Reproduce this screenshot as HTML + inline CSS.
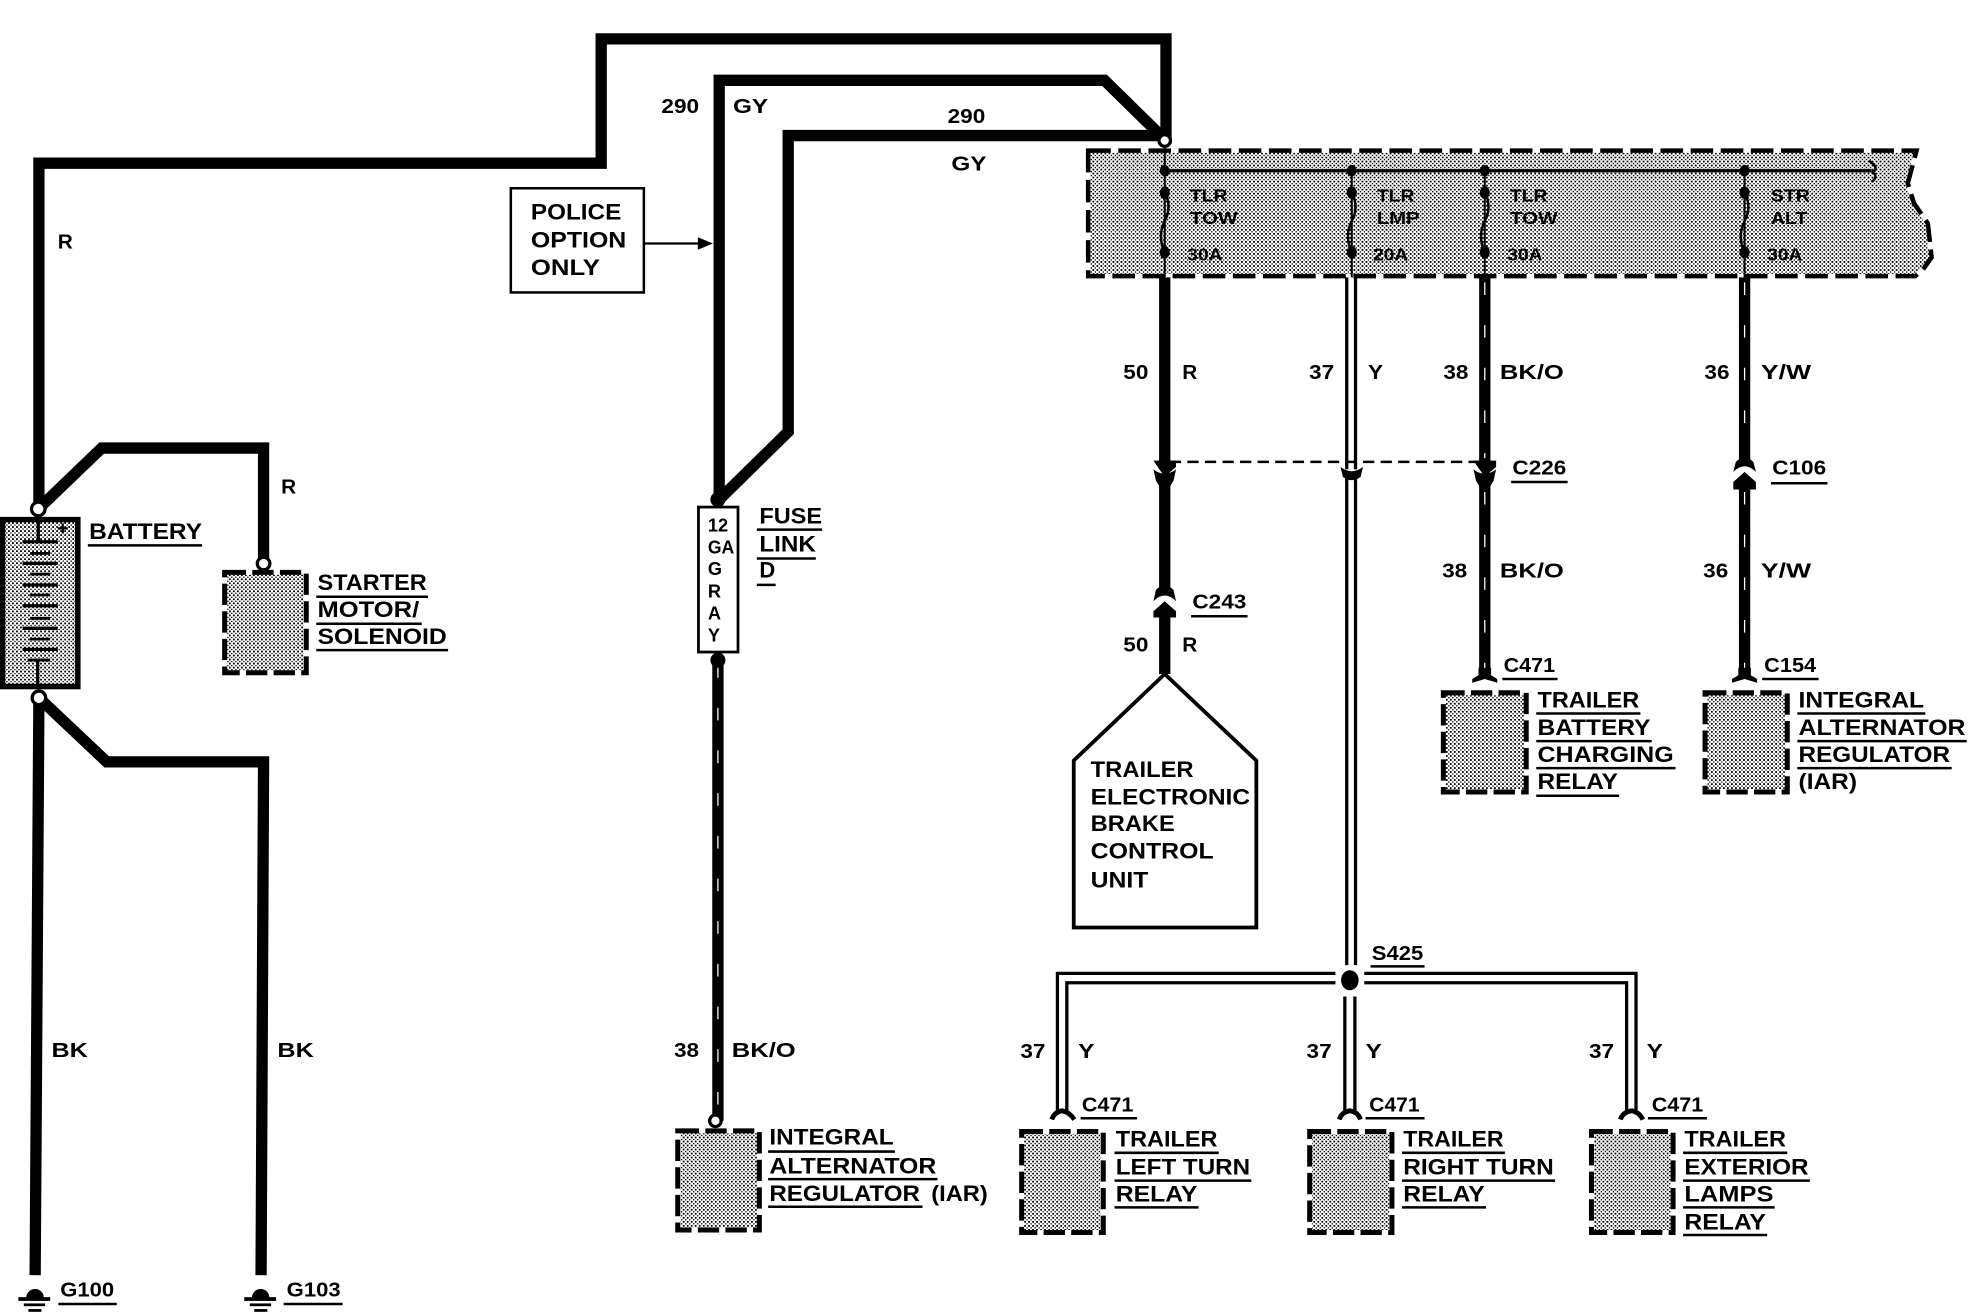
<!DOCTYPE html>
<html><head><meta charset="utf-8"><title>Wiring diagram</title>
<style>
html,body{margin:0;padding:0;background:#fff;width:1968px;height:1312px;overflow:hidden}
svg{display:block}
text{font-family:"Liberation Sans",sans-serif;font-weight:bold;fill:#000}
.l{font-size:17.5px}
.n{font-size:16px}
.s{font-size:14px;font-weight:bold}
.w{fill:none;stroke:#000;stroke-width:9}
.b0{fill:url(#st);stroke:#fff;stroke-width:4}
.b{fill:none;stroke:#000;stroke-width:4;stroke-dasharray:17 5}
.u{fill:none;stroke:#000;stroke-width:2}
.d{fill:none;stroke:#fff;stroke-width:1;stroke-dasharray:10 24}
.y{fill:none;stroke:#000;stroke-width:2.6}
.c{fill:#fff;stroke:#000;stroke-width:2.6}
.f{fill:none;stroke:#000;stroke-width:2}
</style></head><body>
<svg xmlns="http://www.w3.org/2000/svg" width="1968" height="1312" viewBox="0 0 1568 1045.33" shape-rendering="crispEdges">
<defs>
<pattern id="st" width="3.2" height="3.2" patternUnits="userSpaceOnUse">
<rect width="3.2" height="3.2" fill="#fff"/>
<rect width="1.3" height="1.3" fill="#000"/>
<rect x="1.6" y="1.6" width="1.3" height="1.3" fill="#000"/>
</pattern>
</defs>
<rect width="1568" height="1046" fill="#fff"/>
<g shape-rendering="auto">

<!-- main wires -->
<path class="w" d="M31 405V130H479V31H929V112"/>
<path class="w" d="M573 398V64H880L929 112"/>
<path class="w" d="M573 398L628 344V108H929"/>
<path class="w" d="M31 405L81 357H210V449"/>
<path class="w" d="M31 556L85 607H210L208 1016"/>
<path class="w" d="M31 556L28 1016"/>

<!-- fuse panel -->
<path d="M867 120H1527L1520 146L1525 162L1536 178L1539 205L1532 215L1526 220H867Z" fill="url(#st)" stroke="#fff" stroke-width="3.6"/>
<path d="M867 120H1527L1520 146L1525 162L1536 178L1539 205L1532 215L1526 220H867Z" fill="none" stroke="#000" stroke-width="3.6" stroke-dasharray="18 6"/>
<path d="M928 112V221M1077 136V221M1183 136V221M1390 136V221" stroke="#000" stroke-width="1.6" fill="none"/>
<path d="M928 136H1491" stroke="#000" stroke-width="2.6" fill="none"/>
<path d="M1489 128Q1498 134 1492 137Q1497 141 1491 145" class="f"/>
<path class="f" d="M928 153Q934 165 928 176Q922 188 928 201"/>
<path class="f" d="M1077 153Q1083 165 1077 176Q1071 188 1077 201"/>
<path class="f" d="M1183 153Q1189 165 1183 176Q1177 188 1183 201"/>
<path class="f" d="M1390 153Q1396 165 1390 176Q1384 188 1390 201"/>
<g fill="#000">
<ellipse cx="928" cy="136" rx="4" ry="4.5"/><ellipse cx="1077" cy="136" rx="4" ry="4.5"/><ellipse cx="1183" cy="136" rx="4" ry="4.5"/><ellipse cx="1390" cy="136" rx="4" ry="4.5"/>
<ellipse cx="928" cy="153.5" rx="4" ry="5"/><ellipse cx="1077" cy="153.5" rx="4" ry="5"/><ellipse cx="1183" cy="153.5" rx="4" ry="5"/><ellipse cx="1390" cy="153.5" rx="4" ry="5"/>
<ellipse cx="928" cy="201" rx="4" ry="5"/><ellipse cx="1077" cy="201" rx="4" ry="5"/><ellipse cx="1183" cy="201" rx="4" ry="5"/><ellipse cx="1390" cy="201" rx="4" ry="5"/>
</g>
<g class="s">
<text class="s" x="948" y="160.6" textLength="30" lengthAdjust="spacingAndGlyphs">TLR</text>
<text class="s" x="948" y="178.5" textLength="38" lengthAdjust="spacingAndGlyphs">TOW</text>
<text class="s" x="946" y="207.7" textLength="28" lengthAdjust="spacingAndGlyphs">30A</text>
<text class="s" x="1097" y="160.6" textLength="30" lengthAdjust="spacingAndGlyphs">TLR</text>
<text class="s" x="1097" y="178.5" textLength="34" lengthAdjust="spacingAndGlyphs">LMP</text>
<text class="s" x="1094" y="207.7" textLength="28" lengthAdjust="spacingAndGlyphs">20A</text>
<text class="s" x="1203" y="160.6" textLength="30" lengthAdjust="spacingAndGlyphs">TLR</text>
<text class="s" x="1203" y="178.5" textLength="38" lengthAdjust="spacingAndGlyphs">TOW</text>
<text class="s" x="1201" y="207.7" textLength="28" lengthAdjust="spacingAndGlyphs">30A</text>
<text class="s" x="1411" y="160.6" textLength="31" lengthAdjust="spacingAndGlyphs">STR</text>
<text class="s" x="1411" y="178.5" textLength="29" lengthAdjust="spacingAndGlyphs">ALT</text>
<text class="s" x="1408" y="207.7" textLength="28" lengthAdjust="spacingAndGlyphs">30A</text>
</g>
<circle class="c" cx="928" cy="112" r="4.6"/>

<!-- police box -->
<rect x="407" y="150" width="106" height="83" fill="#fff" stroke="#000" stroke-width="2"/>
<text class="l" x="423" y="175" textLength="72" lengthAdjust="spacingAndGlyphs">POLICE</text>
<text class="l" x="423" y="197" textLength="76" lengthAdjust="spacingAndGlyphs">OPTION</text>
<text class="l" x="423" y="219" textLength="55" lengthAdjust="spacingAndGlyphs">ONLY</text>
<path d="M513 194H558" stroke="#000" stroke-width="1.8" fill="none"/>
<path d="M556 189L568 194L556 199Z" fill="#000"/>

<!-- wire labels top -->
<text class="n" x="527" y="90" textLength="30" lengthAdjust="spacingAndGlyphs">290</text>
<text class="n" x="584" y="90" textLength="28" lengthAdjust="spacingAndGlyphs">GY</text>
<text class="n" x="755" y="98" textLength="30" lengthAdjust="spacingAndGlyphs">290</text>
<text class="n" x="758" y="136" textLength="28" lengthAdjust="spacingAndGlyphs">GY</text>
<text class="n" x="46" y="198" textLength="12" lengthAdjust="spacingAndGlyphs">R</text>
<text class="n" x="224" y="393" textLength="12" lengthAdjust="spacingAndGlyphs">R</text>

<!-- battery -->
<rect x="2" y="414" width="60" height="133" fill="url(#st)" stroke="#000" stroke-width="4.4"/>
<g stroke="#000" fill="none">
<path stroke-width="2.6" d="M30.5 415V431M18 431.6H46M18 448.9H46M18 466.1H46M18 482.6H46M18 500.6H46M18 517.4H46M30 526V548"/>
<path stroke-width="2.2" d="M24 440.9H40M24 457.4H40M24 474.1H40M24 492.7H40M24 509.2H40M22 525.9H40"/>
<path stroke-width="1.8" d="M46 421H54M50 417V425"/>
</g>
<circle class="c" cx="30.5" cy="405.5" r="5.4"/>
<circle class="c" cx="31" cy="556" r="5.4"/>
<text class="l" x="71" y="429.5" textLength="90" lengthAdjust="spacingAndGlyphs">BATTERY</text>
<path class="u" d="M70 434.5H161"/>

<!-- starter -->
<rect class="b0" x="179" y="456" width="65" height="80"/><rect class="b" x="179" y="456" width="65" height="80"/>
<circle class="c" cx="210" cy="449" r="5"/>
<text class="l" x="253" y="470" textLength="87" lengthAdjust="spacingAndGlyphs">STARTER</text>
<path class="u" d="M252 475.5H341"/>
<text class="l" x="253" y="491.6" textLength="81" lengthAdjust="spacingAndGlyphs">MOTOR/</text>
<path class="u" d="M252 497H336"/>
<text class="l" x="253" y="513" textLength="103" lengthAdjust="spacingAndGlyphs">SOLENOID</text>
<path class="u" d="M252 518H357"/>

<!-- grounds -->
<g fill="#000">
<path d="M20.9 1034A7 7 0 1 1 34.9 1034Z"/><rect x="14.6" y="1033.5" width="25.4" height="3"/><rect x="19" y="1038.5" width="17" height="2.2"/><rect x="22.6" y="1043" width="10.4" height="2.2"/>
<path d="M200.7 1034A7 7 0 1 1 214.7 1034Z"/><rect x="194.6" y="1033.5" width="25.4" height="3"/><rect x="199" y="1038.5" width="17" height="2.2"/><rect x="202.6" y="1043" width="10.4" height="2.2"/>
</g>
<text class="n" x="48" y="1033" textLength="43" lengthAdjust="spacingAndGlyphs">G100</text>
<path class="u" d="M46.5 1039H93"/>
<text class="n" x="228.4" y="1033" textLength="43" lengthAdjust="spacingAndGlyphs">G103</text>
<path class="u" d="M226 1039H273"/>
<text class="n" x="41" y="842" textLength="29" lengthAdjust="spacingAndGlyphs">BK</text>
<text class="n" x="221" y="842" textLength="29" lengthAdjust="spacingAndGlyphs">BK</text>

<!-- fuse link -->
<path class="w" d="M572 526V893"/>
<path class="d" d="M572 530V893"/>
<circle cx="572" cy="398" r="6" fill="#000"/>
<circle cx="572" cy="526" r="6" fill="#000"/>
<rect x="556.5" y="404" width="31.5" height="115.5" fill="#fff" stroke="#000" stroke-width="2.2"/>
<text class="n" style="font-size:14.5px" x="564" y="423.6">12</text>
<text class="n" style="font-size:14.5px" x="564" y="441" textLength="21" lengthAdjust="spacingAndGlyphs">GA</text>
<text class="n" style="font-size:14.5px" x="564" y="458">G</text>
<text class="n" style="font-size:14.5px" x="564" y="476">R</text>
<text class="n" style="font-size:14.5px" x="564" y="493.6">A</text>
<text class="n" style="font-size:14.5px" x="564" y="511">Y</text>
<text class="l" x="605" y="417" textLength="50" lengthAdjust="spacingAndGlyphs">FUSE</text>
<path class="u" d="M603 422H655"/>
<text class="l" x="605" y="439.5" textLength="45" lengthAdjust="spacingAndGlyphs">LINK</text>
<path class="u" d="M603 445H650"/>
<text class="l" x="605" y="460">D</text>
<path class="u" d="M603 466H618"/>
<text class="n" x="537" y="842" textLength="20" lengthAdjust="spacingAndGlyphs">38</text>
<text class="n" x="583" y="842" textLength="51" lengthAdjust="spacingAndGlyphs">BK/O</text>

<!-- integral alternator -->
<rect class="b0" x="540" y="901" width="65" height="79"/><rect class="b" x="540" y="901" width="65" height="79"/>
<circle class="c" cx="570" cy="893" r="4.6"/>
<text class="l" x="613" y="912" textLength="99" lengthAdjust="spacingAndGlyphs">INTEGRAL</text>
<path class="u" d="M612 917.5H713"/>
<text class="l" x="613" y="935" textLength="133" lengthAdjust="spacingAndGlyphs">ALTERNATOR</text>
<path class="u" d="M612 939.5H747"/>
<text class="l" x="613" y="957" textLength="120" lengthAdjust="spacingAndGlyphs">REGULATOR</text>
<path class="u" d="M612 961.5H735"/>
<text class="l" x="742" y="957" textLength="45" lengthAdjust="spacingAndGlyphs">(IAR)</text>

<!-- R 50 wire -->
<path class="w" d="M928 221V372M928 383V470M928 486V537"/>
<path d="M919 367H937V372L928 380Z" fill="#000"/>
<path d="M919 374Q928 381 937 374L935 383L932 388H924L921 383Z" fill="#000"/>
<path d="M919 479Q928 470 937 479L935 470Q928 463 921 470Z" fill="#000"/>
<path d="M928 479L937 487V492H919V487Z" fill="#000"/>
<text class="n" x="895" y="302" textLength="20" lengthAdjust="spacingAndGlyphs">50</text>
<text class="n" x="942" y="302" textLength="12" lengthAdjust="spacingAndGlyphs">R</text>
<text class="n" x="950" y="485" textLength="43" lengthAdjust="spacingAndGlyphs">C243</text>
<path class="u" d="M949 491H994"/>
<text class="n" x="895" y="519" textLength="20" lengthAdjust="spacingAndGlyphs">50</text>
<text class="n" x="942" y="519" textLength="12" lengthAdjust="spacingAndGlyphs">R</text>
<path d="M928 537L1001 606V739H855.5V606Z" fill="#fff" stroke="#000" stroke-width="3"/>
<text class="l" x="869" y="619" textLength="82" lengthAdjust="spacingAndGlyphs">TRAILER</text>
<text class="l" x="869" y="641" textLength="127" lengthAdjust="spacingAndGlyphs">ELECTRONIC</text>
<text class="l" x="869" y="662" textLength="67" lengthAdjust="spacingAndGlyphs">BRAKE</text>
<text class="l" x="869" y="684" textLength="98" lengthAdjust="spacingAndGlyphs">CONTROL</text>
<text class="l" x="869" y="707" textLength="46" lengthAdjust="spacingAndGlyphs">UNIT</text>

<!-- dashed connector link -->
<path d="M932 368H1179" stroke="#000" stroke-width="2" stroke-dasharray="9 5" fill="none"/>

<!-- Y 37 wire -->
<path class="y" d="M1073 221V374M1080 221V374M1073 381V769M1080 381V769"/>
<path d="M1068 372Q1077 379 1086 372L1084 380Q1077 385 1070 380Z" fill="#000"/>
<text class="n" x="1043" y="302" textLength="20" lengthAdjust="spacingAndGlyphs">37</text>
<text class="n" x="1090" y="302" textLength="12" lengthAdjust="spacingAndGlyphs">Y</text>

<!-- BK/O 38 -->
<path class="w" d="M1183 221V372M1183 384V540"/>
<path class="d" d="M1183 225V365M1183 392V535"/>
<path d="M1174 367H1192V372L1183 380Z" fill="#000"/>
<path d="M1174 374Q1183 381 1192 374L1190 383L1187 388H1179L1176 383Z" fill="#000"/>
<text class="n" x="1150" y="302" textLength="20" lengthAdjust="spacingAndGlyphs">38</text>
<text class="n" x="1195" y="302" textLength="51" lengthAdjust="spacingAndGlyphs">BK/O</text>
<text class="n" x="1205" y="378" textLength="43" lengthAdjust="spacingAndGlyphs">C226</text>
<path class="u" d="M1204 384H1249"/>
<text class="n" x="1149" y="460" textLength="20" lengthAdjust="spacingAndGlyphs">38</text>
<text class="n" x="1195" y="460" textLength="51" lengthAdjust="spacingAndGlyphs">BK/O</text>
<path d="M1178 532H1188V538L1193 541V544L1183 541L1173 544V541L1178 538Z" fill="#000"/>
<text class="n" x="1198" y="535.6" textLength="41" lengthAdjust="spacingAndGlyphs">C471</text>
<path class="u" d="M1197 541H1241"/>
<rect class="b0" x="1150" y="552" width="66" height="79"/><rect class="b" x="1150" y="552" width="66" height="79"/>
<text class="l" x="1225" y="563.6" textLength="81" lengthAdjust="spacingAndGlyphs">TRAILER</text>
<path class="u" d="M1224 568.5H1307"/>
<text class="l" x="1225" y="585.6" textLength="90" lengthAdjust="spacingAndGlyphs">BATTERY</text>
<path class="u" d="M1224 590.5H1316"/>
<text class="l" x="1225" y="607" textLength="108.5" lengthAdjust="spacingAndGlyphs">CHARGING</text>
<path class="u" d="M1224 612H1335"/>
<text class="l" x="1225" y="628.7" textLength="64" lengthAdjust="spacingAndGlyphs">RELAY</text>
<path class="u" d="M1224 634H1290"/>

<!-- Y/W 36 -->
<path class="w" d="M1390 221V366M1390 385V540"/>
<path class="d" d="M1390 225V360M1390 392V535"/>
<path d="M1381 376Q1390 367 1399 376L1397 368Q1390 361 1383 368Z" fill="#000"/>
<path d="M1390 376L1399 384V390H1381V384Z" fill="#000"/>
<text class="n" x="1358" y="302" textLength="20" lengthAdjust="spacingAndGlyphs">36</text>
<text class="n" x="1403" y="302" textLength="40" lengthAdjust="spacingAndGlyphs">Y/W</text>
<text class="n" x="1412" y="378" textLength="43" lengthAdjust="spacingAndGlyphs">C106</text>
<path class="u" d="M1411 385H1456"/>
<text class="n" x="1357" y="460" textLength="20" lengthAdjust="spacingAndGlyphs">36</text>
<text class="n" x="1403" y="460" textLength="40" lengthAdjust="spacingAndGlyphs">Y/W</text>
<path d="M1385 532H1395V538L1400 541V544L1390 541L1380 544V541L1385 538Z" fill="#000"/>
<text class="n" x="1405.6" y="535.6" textLength="41.4" lengthAdjust="spacingAndGlyphs">C154</text>
<path class="u" d="M1404 541H1449"/>
<rect class="b0" x="1358.5" y="552" width="65.5" height="79"/><rect class="b" x="1358.5" y="552" width="65.5" height="79"/>
<text class="l" x="1433" y="563.6" textLength="100" lengthAdjust="spacingAndGlyphs">INTEGRAL</text>
<path class="u" d="M1432 568.5H1534"/>
<text class="l" x="1433" y="585.6" textLength="133" lengthAdjust="spacingAndGlyphs">ALTERNATOR</text>
<path class="u" d="M1432 590.5H1567"/>
<text class="l" x="1433" y="607" textLength="120.7" lengthAdjust="spacingAndGlyphs">REGULATOR</text>
<path class="u" d="M1432 612H1555"/>
<text class="l" x="1433" y="628.7" textLength="46.6" lengthAdjust="spacingAndGlyphs">(IAR)</text>

<!-- S425 -->
<ellipse cx="1075.5" cy="781" rx="7" ry="8" fill="#000"/>
<text class="n" x="1093" y="765" textLength="41" lengthAdjust="spacingAndGlyphs">S425</text>
<path class="u" d="M1092 770H1135"/>
<path class="y" d="M1064 775.5H842.5V888M1064 783H850V888"/>
<path class="y" d="M1087 775.5H1303.5V888M1087 783H1296V888"/>
<path class="y" d="M1071.5 794V888M1079.5 794V888"/>
<g fill="none" stroke="#000" stroke-width="3.8">
<path d="M838 892Q840 886 846 885Q852 886 856 892"/>
<path d="M1067 892Q1069 886 1075.500 885Q1082 886 1084 892"/>
<path d="M1291 892Q1293 886 1300 885Q1306 886 1309 892"/>
</g>
<text class="n" x="813" y="843" textLength="20" lengthAdjust="spacingAndGlyphs">37</text>
<text class="n" x="859" y="843" textLength="13" lengthAdjust="spacingAndGlyphs">Y</text>
<text class="n" x="1041" y="843" textLength="20" lengthAdjust="spacingAndGlyphs">37</text>
<text class="n" x="1088" y="843" textLength="13" lengthAdjust="spacingAndGlyphs">Y</text>
<text class="n" x="1266" y="843" textLength="20" lengthAdjust="spacingAndGlyphs">37</text>
<text class="n" x="1312" y="843" textLength="13" lengthAdjust="spacingAndGlyphs">Y</text>

<text class="n" x="862" y="885.7" textLength="41" lengthAdjust="spacingAndGlyphs">C471</text>
<path class="u" d="M861 891H906"/>
<text class="n" x="1091" y="885.7" textLength="40" lengthAdjust="spacingAndGlyphs">C471</text>
<path class="u" d="M1088 891H1135"/>
<text class="n" x="1316" y="885.7" textLength="41" lengthAdjust="spacingAndGlyphs">C471</text>
<path class="u" d="M1313 891H1360"/>

<!-- bottom relays -->
<rect class="b0" x="814" y="901.500" width="65" height="80.500"/><rect class="b" x="814" y="901.500" width="65" height="80.500"/>
<rect class="b0" x="1043.500" y="901.500" width="65.500" height="80.500"/><rect class="b" x="1043.500" y="901.500" width="65.500" height="80.500"/>
<rect class="b0" x="1268" y="901.500" width="65" height="80.500"/><rect class="b" x="1268" y="901.500" width="65" height="80.500"/>

<text class="l" x="889" y="913.6" textLength="81" lengthAdjust="spacingAndGlyphs">TRAILER</text>
<path class="u" d="M888 918.5H971"/>
<text class="l" x="889" y="935.6" textLength="107" lengthAdjust="spacingAndGlyphs">LEFT TURN</text>
<path class="u" d="M888 940.7H997"/>
<text class="l" x="889" y="957.4" textLength="65" lengthAdjust="spacingAndGlyphs">RELAY</text>
<path class="u" d="M888 962H955"/>

<text class="l" x="1118" y="913.6" textLength="80" lengthAdjust="spacingAndGlyphs">TRAILER</text>
<path class="u" d="M1117 918.5H1199"/>
<text class="l" x="1118" y="935.6" textLength="120" lengthAdjust="spacingAndGlyphs">RIGHT TURN</text>
<path class="u" d="M1117 940.7H1239"/>
<text class="l" x="1118" y="957.4" textLength="65" lengthAdjust="spacingAndGlyphs">RELAY</text>
<path class="u" d="M1117 962H1184"/>

<text class="l" x="1342" y="913.6" textLength="81" lengthAdjust="spacingAndGlyphs">TRAILER</text>
<path class="u" d="M1341 918.5H1424"/>
<text class="l" x="1342" y="935.6" textLength="99" lengthAdjust="spacingAndGlyphs">EXTERIOR</text>
<path class="u" d="M1341 940.7H1442"/>
<text class="l" x="1342" y="957.4" textLength="71" lengthAdjust="spacingAndGlyphs">LAMPS</text>
<path class="u" d="M1341 962H1414"/>
<text class="l" x="1342" y="979.5" textLength="65" lengthAdjust="spacingAndGlyphs">RELAY</text>
<path class="u" d="M1341 984H1408"/>
</g>
</svg>
</body></html>
